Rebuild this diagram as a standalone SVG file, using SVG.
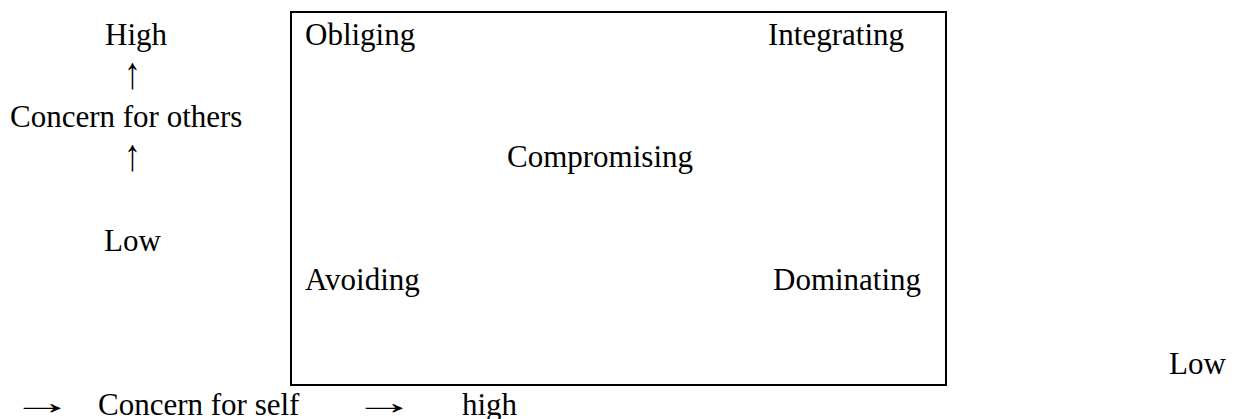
<svg xmlns="http://www.w3.org/2000/svg" width="1235" height="419" viewBox="0 0 1235 419">
<style>
text{font-family:"Liberation Serif","Times New Roman",serif;font-size:31px;fill:#000}
.box{fill:none;stroke:#000;stroke-width:2}
</style>
<rect width="1235" height="419" fill="#fff"/>
<g id="grid">
<rect class="box" x="291" y="12" width="655" height="373"/>
</g>
<g id="axis-y">
<text x="105" y="45">High</text>
<text transform="translate(124 88) scale(1.1 1.45)">↑</text>
<text x="10" y="127">Concern for others</text>
<text transform="translate(124 170) scale(1.1 1.45)">↑</text>
<text x="104" y="251">Low</text>
</g>
<g id="obliging"><text x="305" y="45">Obliging</text></g>
<g id="integrating"><text x="768" y="45">Integrating</text></g>
<g id="compromising"><text x="507" y="167">Compromising</text></g>
<g id="avoiding"><text x="305" y="290">Avoiding</text></g>
<g id="dominating"><text x="773" y="290">Dominating</text></g>
<g id="axis-x">
<text x="1169" y="374">Low</text>
<text transform="translate(11 414) scale(2 1.1)">→</text>
<text x="98" y="415">Concern for self</text>
<text transform="translate(353 414) scale(2 1.1)">→</text>
<text x="462" y="415">high</text>
</g>
</svg>
